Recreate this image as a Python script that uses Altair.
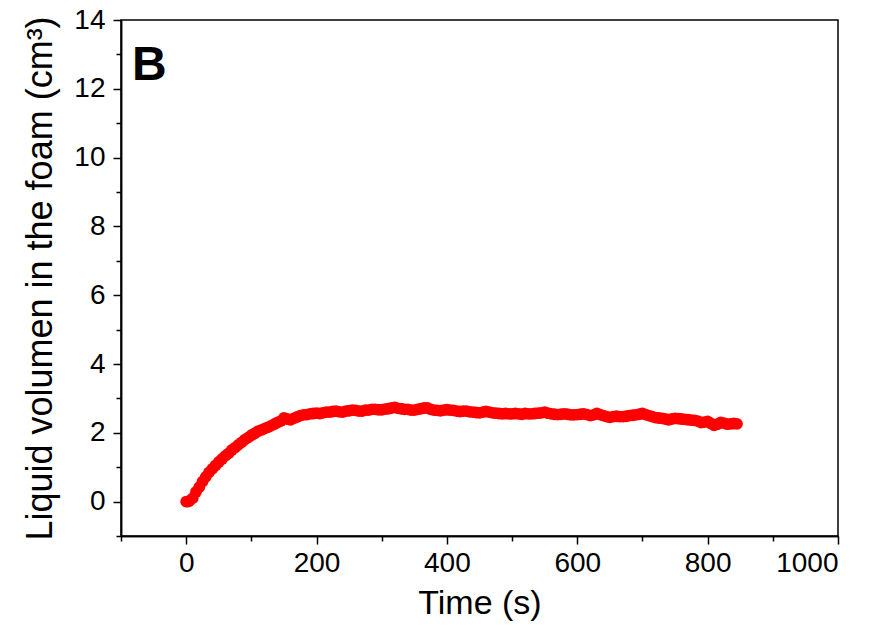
import altair as alt
import pandas as pd

time_s = [0, 3] + list(range(5, 850, 5))
volume = [
    0.0, 0.0, 0.02, 0.1, 0.28, 0.42, 0.58, 0.72, 0.85, 0.95, 1.05,
    1.15, 1.24, 1.33, 1.4, 1.5, 1.57, 1.65, 1.72, 1.8, 1.86,
    1.93, 1.98, 2.04, 2.08, 2.12, 2.16, 2.2, 2.25, 2.3, 2.34,
    2.43, 2.4, 2.38, 2.42, 2.46, 2.5, 2.52, 2.53, 2.55, 2.56,
    2.57, 2.56, 2.58, 2.6, 2.6, 2.62, 2.63, 2.61, 2.6, 2.63,
    2.64, 2.66, 2.65, 2.63, 2.63, 2.66, 2.66, 2.68, 2.68, 2.67,
    2.67, 2.69, 2.7, 2.72, 2.74, 2.71, 2.7, 2.68, 2.68, 2.66,
    2.66, 2.68, 2.7, 2.72, 2.72, 2.68, 2.66, 2.65, 2.64, 2.66,
    2.67, 2.66, 2.65, 2.63, 2.62, 2.63, 2.63, 2.61, 2.6, 2.59,
    2.58, 2.6, 2.62, 2.6, 2.58, 2.57, 2.56, 2.55, 2.56, 2.55,
    2.55, 2.56, 2.55, 2.54, 2.56, 2.55, 2.55, 2.56, 2.57, 2.58,
    2.6, 2.57, 2.55, 2.54, 2.53, 2.54, 2.55, 2.54, 2.52, 2.52,
    2.53, 2.54, 2.55, 2.53, 2.5, 2.52, 2.56, 2.53, 2.5, 2.47,
    2.45, 2.47, 2.48, 2.47, 2.47, 2.48, 2.5, 2.51, 2.52, 2.54,
    2.56, 2.53, 2.5, 2.47, 2.44, 2.43, 2.42, 2.4, 2.38, 2.4,
    2.42, 2.41, 2.4, 2.39, 2.38, 2.37, 2.36, 2.34, 2.3, 2.31,
    2.33, 2.27, 2.22, 2.25, 2.3, 2.28, 2.25, 2.26, 2.27, 2.26,
]

x_major = list(range(0, 1001, 200))
x_minor = list(range(-100, 1000, 200))
y_major = list(range(0, 15, 2))
y_minor = list(range(-1, 14, 2))

df = pd.DataFrame({"t": time_s, "v": volume})
FONT = "Liberation Sans"
xscale = alt.Scale(domain=[-100, 1000], nice=False, zero=False)
yscale = alt.Scale(domain=[-1, 14], nice=False, zero=False)

common = dict(grid=False, domainColor="black", domainWidth=1.5, tickColor="black",
              tickWidth=1.5, labelColor="black", titleColor="black", labelFont=FONT,
              titleFont=FONT, titleFontWeight="normal")

points = alt.Chart(df).mark_circle(size=140, color="#FF0000", opacity=1).encode(
    x=alt.X("t:Q", scale=xscale,
            axis=alt.Axis(title="Time (s)", values=x_major, format="d", tickSize=8,
                          labelFontSize=28, titleFontSize=34, labelPadding=5, titlePadding=9,
                          orient="bottom", **common)),
    y=alt.Y("v:Q", scale=yscale,
            axis=alt.Axis(title="Liquid volumen in the foam (cm³)", values=y_major, format="d",
                          tickSize=8, labelFontSize=28, titleFontSize=36, labelPadding=8,
                          titlePadding=14, orient="left", **common)),
)

minor = alt.Chart(df).mark_circle(opacity=0).encode(
    x=alt.X("t:Q", scale=xscale,
            axis=alt.Axis(title=None, values=x_minor, labels=False, tickSize=5,
                          orient="bottom", **common)),
    y=alt.Y("v:Q", scale=yscale,
            axis=alt.Axis(title=None, values=y_minor, labels=False, tickSize=5,
                          orient="left", **common)),
)

label = alt.Chart(pd.DataFrame({"t": [-100], "v": [14]})).mark_text(
    text="B", font=FONT, fontSize=48, fontWeight="bold", align="left", baseline="top",
    dx=11, dy=22, color="black").encode(
    x=alt.X("t:Q", scale=xscale, axis=None), y=alt.Y("v:Q", scale=yscale, axis=None))

chart = alt.layer(points, minor, label).resolve_axis(x="independent", y="independent").properties(
    width=717, height=516,
    padding={"left": 121, "top": 20, "right": 56, "bottom": 94},
    autosize=alt.AutoSizeParams(type="none"),
    background="white",
).configure_view(stroke="black", strokeWidth=1.5).configure_axis(labelFontSize=28)

chart.save("out.html", embed_options={"renderer": "svg", "actions": False})
